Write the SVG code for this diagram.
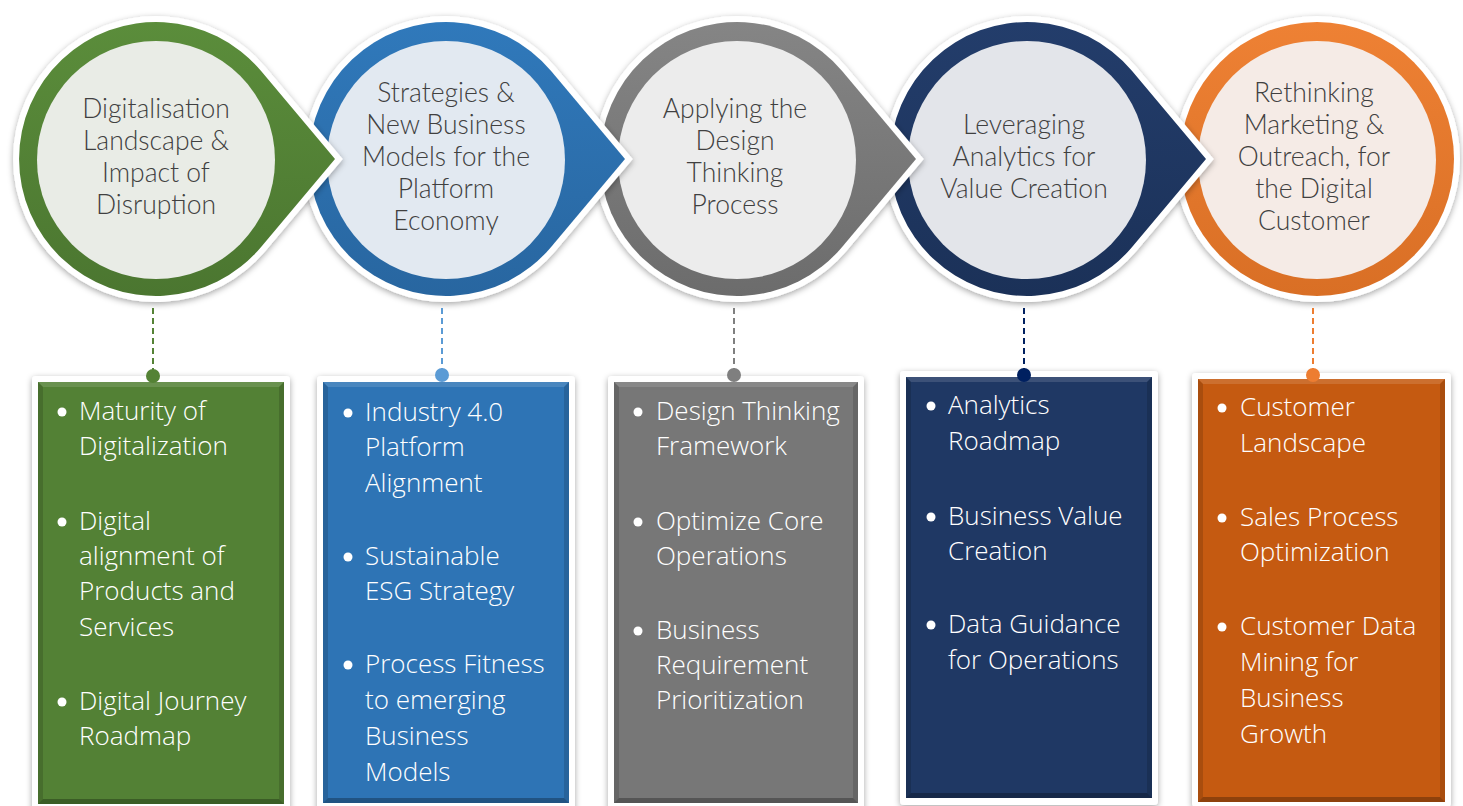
<svg xmlns="http://www.w3.org/2000/svg" width="1463" height="806" viewBox="0 0 1463 806">
<defs>
<style>
.ct{font-family:Lato,"Open Sans","Liberation Sans",sans-serif;font-weight:300;font-size:26.5px;fill:#404040;text-anchor:middle}
.bt{font-family:"Open Sans","Liberation Sans",sans-serif;font-weight:300;font-size:26px;fill:#ffffff}
.wf{fill:#ffffff;filter:url(#sh)}
.ow{fill:#ffffff;stroke:#ffffff;stroke-width:12;stroke-linejoin:miter;filter:url(#sh)}
.bl{fill:#ffffff}
.lt{fill:#ffffff;opacity:0.13}
.dk{fill:#000000;opacity:0.28}
.sd{fill:#000000;opacity:0.14}
.dash{stroke-width:2;stroke-dasharray:6 4;fill:none}
</style>
<filter id="sh" x="-10%" y="-10%" width="120%" height="120%">
<feDropShadow dx="0" dy="2" stdDeviation="3" flood-color="#000" flood-opacity="0.35"/>
</filter>
<linearGradient id="gG" x1="0" y1="0" x2="0" y2="1"><stop offset="0" stop-color="#5b8d3b"/><stop offset="1" stop-color="#4b7630"/></linearGradient>
<linearGradient id="gB" x1="0" y1="0" x2="0" y2="1"><stop offset="0" stop-color="#3079bb"/><stop offset="1" stop-color="#2866a0"/></linearGradient>
<linearGradient id="gY" x1="0" y1="0" x2="0" y2="1"><stop offset="0" stop-color="#858585"/><stop offset="1" stop-color="#6c6c6c"/></linearGradient>
<linearGradient id="gN" x1="0" y1="0" x2="0" y2="1"><stop offset="0" stop-color="#233d6b"/><stop offset="1" stop-color="#1b3158"/></linearGradient>
<linearGradient id="gO" x1="0" y1="0" x2="0" y2="1"><stop offset="0" stop-color="#ee8134"/><stop offset="1" stop-color="#d96f25"/></linearGradient>
</defs>
<rect width="1463" height="806" fill="#ffffff"/>

<!-- circles, drawn right to left so each tip overlaps the next -->
<g id="node-c5">
<circle class="ow" cx="1317" cy="159" r="137"/>
<circle cx="1317" cy="159" r="137" fill="url(#gO)"/>
<circle cx="1317" cy="160" r="119" fill="#f5ebe6"/>
<text class="ct"><tspan x="1314" y="102">Rethinking</tspan><tspan x="1314" y="134">Marketing &amp;</tspan><tspan x="1314" y="166">Outreach, for</tspan><tspan x="1314" y="198">the Digital</tspan><tspan x="1314" y="230">Customer</tspan></text>
</g>
<g id="node-c4">
<path class="ow" d="M1206,159 L1131.9,70.8 A137,137 0 1,0 1131.9,247.2 Z"/>
<path d="M1206,159 L1131.9,70.8 A137,137 0 1,0 1131.9,247.2 Z" fill="url(#gN)"/>
<circle cx="1027" cy="160" r="119" fill="#e3e5ea"/>
<text class="ct"><tspan x="1024" y="134">Leveraging</tspan><tspan x="1024" y="166">Analytics for</tspan><tspan x="1024" y="198">Value Creation</tspan></text>
</g>
<g id="node-c3">
<path class="ow" d="M916,159 L841.9,70.8 A137,137 0 1,0 841.9,247.2 Z"/>
<path d="M916,159 L841.9,70.8 A137,137 0 1,0 841.9,247.2 Z" fill="url(#gY)"/>
<circle cx="737" cy="160" r="119" fill="#ececec"/>
<text class="ct"><tspan x="735" y="118">Applying the</tspan><tspan x="735" y="150">Design</tspan><tspan x="735" y="182">Thinking</tspan><tspan x="735" y="214">Process</tspan></text>
</g>
<g id="node-c2">
<path class="ow" d="M625,159 L550.9,70.8 A137,137 0 1,0 550.9,247.2 Z"/>
<path d="M625,159 L550.9,70.8 A137,137 0 1,0 550.9,247.2 Z" fill="url(#gB)"/>
<circle cx="446" cy="160" r="119" fill="#e2e9f1"/>
<text class="ct"><tspan x="446" y="102">Strategies &amp;</tspan><tspan x="446" y="134">New Business</tspan><tspan x="446" y="166">Models for the</tspan><tspan x="446" y="198">Platform</tspan><tspan x="446" y="230">Economy</tspan></text>
</g>
<g id="node-c1">
<path class="ow" d="M335,159 L260.9,70.8 A137,137 0 1,0 260.9,247.2 Z"/>
<path d="M335,159 L260.9,70.8 A137,137 0 1,0 260.9,247.2 Z" fill="url(#gG)"/>
<circle cx="156" cy="160" r="119" fill="#e9ece6"/>
<text class="ct"><tspan x="156" y="118">Digitalisation</tspan><tspan x="156" y="150">Landscape &amp;</tspan><tspan x="156" y="182">Impact of</tspan><tspan x="156" y="214">Disruption</tspan></text>
</g>

<!-- boxes -->
<g id="node-b1">
<rect class="wf" x="32" y="376" width="258" height="436" rx="4"/>
<rect x="38" y="382" width="246" height="422" fill="#538135"/>
<polygon class="lt" points="38,382 284,382 279,387 43,387"/>
<polygon class="dk" points="38,804 284,804 279,799 43,799"/>
<polygon class="sd" points="38,382 43,387 43,799 38,804"/>
<polygon class="sd" points="284,382 279,387 279,799 284,804"/>
<circle class="bl" cx="62" cy="412" r="4.5"/>
<text class="bt"><tspan x="79" y="420">Maturity of</tspan><tspan x="79" y="455">Digitalization</tspan></text>
<circle class="bl" cx="62" cy="522" r="4.5"/>
<text class="bt"><tspan x="79" y="530">Digital</tspan><tspan x="79" y="565">alignment of</tspan><tspan x="79" y="600">Products and</tspan><tspan x="79" y="636">Services</tspan></text>
<circle class="bl" cx="62" cy="702" r="4.5"/>
<text class="bt"><tspan x="79" y="710">Digital Journey</tspan><tspan x="79" y="745">Roadmap</tspan></text>
</g>
<g id="node-b2">
<rect class="wf" x="317" y="376" width="258" height="436" rx="4"/>
<rect x="323" y="382" width="246" height="421" fill="#2e74b5"/>
<polygon class="lt" points="323,382 569,382 564,387 328,387"/>
<polygon class="dk" points="323,803 569,803 564,798 328,798"/>
<polygon class="sd" points="323,382 328,387 328,798 323,803"/>
<polygon class="sd" points="569,382 564,387 564,798 569,803"/>
<circle class="bl" cx="348" cy="413" r="4.5"/>
<text class="bt"><tspan x="365" y="421">Industry 4.0</tspan><tspan x="365" y="456">Platform</tspan><tspan x="365" y="492">Alignment</tspan></text>
<circle class="bl" cx="348" cy="557" r="4.5"/>
<text class="bt"><tspan x="365" y="565">Sustainable</tspan><tspan x="365" y="600">ESG Strategy</tspan></text>
<circle class="bl" cx="348" cy="665" r="4.5"/>
<text class="bt"><tspan x="365" y="673">Process Fitness</tspan><tspan x="365" y="709">to emerging</tspan><tspan x="365" y="745">Business</tspan><tspan x="365" y="781">Models</tspan></text>
</g>
<g id="node-b3">
<rect class="wf" x="608" y="376" width="256" height="436" rx="4"/>
<rect x="614" y="382" width="244" height="421" fill="#777777"/>
<polygon class="lt" points="614,382 858,382 853,387 619,387"/>
<polygon class="dk" points="614,803 858,803 853,798 619,798"/>
<polygon class="sd" points="614,382 619,387 619,798 614,803"/>
<polygon class="sd" points="858,382 853,387 853,798 858,803"/>
<circle class="bl" cx="638" cy="412" r="4.5"/>
<text class="bt"><tspan x="656" y="420">Design Thinking</tspan><tspan x="656" y="455">Framework</tspan></text>
<circle class="bl" cx="638" cy="522" r="4.5"/>
<text class="bt"><tspan x="656" y="530">Optimize Core</tspan><tspan x="656" y="565">Operations</tspan></text>
<circle class="bl" cx="638" cy="631" r="4.5"/>
<text class="bt"><tspan x="656" y="639">Business</tspan><tspan x="656" y="674">Requirement</tspan><tspan x="656" y="709">Prioritization</tspan></text>
</g>
<g id="node-b4">
<rect class="wf" x="900" y="371" width="258" height="434" rx="4"/>
<rect x="906" y="377" width="246" height="421" fill="#1f3864"/>
<polygon class="lt" points="906,377 1152,377 1147,382 911,382"/>
<polygon class="dk" points="906,798 1152,798 1147,793 911,793"/>
<polygon class="sd" points="906,377 911,382 911,793 906,798"/>
<polygon class="sd" points="1152,377 1147,382 1147,793 1152,798"/>
<circle class="bl" cx="931" cy="406" r="4.5"/>
<text class="bt"><tspan x="948" y="414">Analytics</tspan><tspan x="948" y="450">Roadmap</tspan></text>
<circle class="bl" cx="931" cy="517" r="4.5"/>
<text class="bt"><tspan x="948" y="525">Business Value</tspan><tspan x="948" y="560">Creation</tspan></text>
<circle class="bl" cx="931" cy="625" r="4.5"/>
<text class="bt"><tspan x="948" y="633">Data Guidance</tspan><tspan x="948" y="669">for Operations</tspan></text>
</g>
<g id="node-b5">
<rect class="wf" x="1192" y="373" width="259" height="434" rx="4"/>
<rect x="1198" y="379" width="247" height="423" fill="#c55a11"/>
<polygon class="lt" points="1198,379 1445,379 1440,384 1203,384"/>
<polygon class="dk" points="1198,802 1445,802 1440,797 1203,797"/>
<polygon class="sd" points="1198,379 1203,384 1203,797 1198,802"/>
<polygon class="sd" points="1445,379 1440,384 1440,797 1445,802"/>
<circle class="bl" cx="1222" cy="408" r="4.5"/>
<text class="bt"><tspan x="1240" y="416">Customer</tspan><tspan x="1240" y="452">Landscape</tspan></text>
<circle class="bl" cx="1222" cy="518" r="4.5"/>
<text class="bt"><tspan x="1240" y="526">Sales Process</tspan><tspan x="1240" y="561">Optimization</tspan></text>
<circle class="bl" cx="1222" cy="627" r="4.5"/>
<text class="bt"><tspan x="1240" y="635">Customer Data</tspan><tspan x="1240" y="671">Mining for</tspan><tspan x="1240" y="707">Business</tspan><tspan x="1240" y="743">Growth</tspan></text>
</g>

<!-- connectors -->
<g id="connectors">
<line class="dash" x1="153" y1="308" x2="153" y2="376" stroke="#548235"/>
<circle cx="153" cy="376" r="7" fill="#548235"/>
<line class="dash" x1="442" y1="308" x2="442" y2="375" stroke="#5b9bd5"/>
<circle cx="442" cy="375" r="7" fill="#5b9bd5"/>
<line class="dash" x1="734" y1="308" x2="734" y2="375" stroke="#7f7f7f"/>
<circle cx="734" cy="375" r="7" fill="#7f7f7f"/>
<line class="dash" x1="1024" y1="308" x2="1024" y2="375" stroke="#002060"/>
<circle cx="1024" cy="375" r="7" fill="#002060"/>
<line class="dash" x1="1313" y1="308" x2="1313" y2="375" stroke="#ed7d31"/>
<circle cx="1313" cy="375" r="7" fill="#ed7d31"/>
</g>
</svg>
